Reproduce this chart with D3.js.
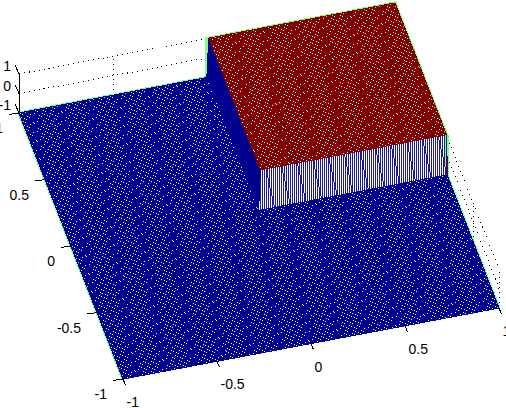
<!DOCTYPE html>
<html><head><meta charset="utf-8">
<style>html,body{margin:0;padding:0;background:#fff;overflow:hidden}svg{display:block}
text{font-family:"Liberation Sans",Arial,sans-serif;font-size:14px;fill:#000}</style>
<script src="https://cdn.jsdelivr.net/npm/d3@7/dist/d3.min.js"></script></head><body>
<script>
const xTicks=[-1,-0.5,0,0.5,1];
const yTicks=[-1,-0.5,0,0.5,1];
const zTicks=[-1,0,1];
const xBlocks=[-1,0,1];
const yBlocks=[-1,0,1];
const blockHeights=[[-1,-1],[-1,1]]; // rows: x block, cols: y block
const meshCellsPerUnit=100;
const colours={low:"#00008f",high:"#800000",edge:"#80ff80"};

const W=506,H=408;
const svg=d3.select("body").append("svg").attr("width",W).attr("height",H);
const xToPx=d3.scaleLinear([-1,1],[-188,188]), xToPy=d3.scaleLinear([-1,1],[35.5,-35.5]);
const yToPx=d3.scaleLinear([-1,1],[52,-52]),   yToPy=d3.scaleLinear([-1,1],[133,-133]);
const zToPy=d3.scaleLinear([-1,1],[19.5,-19.5]);
const P=(x,y,z)=>[259+xToPx(x)+yToPx(y),191+xToPy(x)+yToPy(y)+zToPy(z)];
const line=pts=>"M"+pts.map(p=>p[0].toFixed(2)+","+p[1].toFixed(2)).join("L");
const blockIdx=(b,v)=>Math.max(0,d3.bisectLeft(b,v)-1);
const height=(x,y)=>blockHeights[Math.min(1,blockIdx(xBlocks,x))][Math.min(1,blockIdx(yBlocks,y))];
const n=2*meshCellsPerUnit, mesh=d3.range(n+1).map(i=>-1+i/meshCellsPerUnit);
const stroke=(d,c,w)=>svg.append("path").attr("d",d).attr("fill","none").attr("stroke",c).attr("stroke-width",w||1).attr("shape-rendering","crispEdges");

// dotted box grid on the two back walls
const grid=[];
zTicks.forEach(z=>{grid.push(line([P(-1,1,z),P(1,1,z)]));grid.push(line([P(1,1,z),P(1,-1,z)]));});
xTicks.forEach(x=>grid.push(line([P(x,1,-1),P(x,1,1)])));
yTicks.forEach(y=>grid.push(line([P(1,y,-1),P(1,y,1)])));
stroke(grid.join(""),"#000").attr("stroke-dasharray","1 4");

// white faces that hide the grid behind the raised block
svg.append("path").attr("d",line([P(0,0,-1),P(1,0,-1),P(1,0,1),P(1,1,1),P(0,1,1),P(0,1,-1)])+"Z").attr("fill","#fff");

// outer edge of the surface
stroke(line([P(-1,-1,-1),P(-1,1,-1),P(0,1,-1),P(0,1,1),P(1,1,1),P(1,0,1),P(1,0,-1),P(1,-1,-1)]),colours.edge,3.2);

// axes
let axisD=line([P(-1,-1,-1),P(1,-1,-1)])+line([P(-1,1,-1),P(-1,1,1)]);
xTicks.forEach(x=>{const a=P(x,-1,-1);axisD+=line([a,[a[0]+2.4,a[1]+6]]);});
yTicks.forEach(y=>{const a=P(-1,y,-1);axisD+=line([a,[a[0]-10,a[1]+1.5]]);});
zTicks.forEach(z=>{const a=P(-1,1,z);axisD+=line([a,[a[0]-3.8,a[1]-8.5]]);});
stroke(axisD,"#000");

// mesh: walk each row and column, split where the height changes
const dLow=[],dFront=[],dSide=[],dHigh=[];
function walk(pt,wall){
  let i=0;
  while(i<n){
    const z0=height(...pt(mesh[i]));
    const z1=height(...pt(mesh[i+1]));
    if(z0!==z1){wall.push(line([P(...pt(mesh[i]),z0),P(...pt(mesh[i+1]),z1)]));i++;continue;}
    let j=i+1;
    while(j<n&&height(...pt(mesh[j+1]))===z0)j++;
    (z0<0?dLow:dHigh).push(line([P(...pt(mesh[i]),z0),P(...pt(mesh[j]),z0)]));
    i=j;
  }
}
mesh.forEach(v=>{walk(t=>[v,t],dFront);walk(t=>[t,v],dSide);});
stroke(dFront.join(""),colours.low,0.9);
stroke(dSide.join(""),colours.low,1.3);
stroke(dLow.join(""),colours.low,1.12);
stroke(dHigh.join(""),colours.high,1.12);
stroke(line([P(1,0,0),P(1,0,-1)]),colours.high);

// tick labels
const fmt=d=>String(d);
svg.append("g").selectAll("text").data(xTicks).join("text")
  .attr("x",d=>P(d,-1,-1)[0]+3.5).attr("y",d=>P(d,-1,-1)[1]+28).text(fmt);
svg.append("g").selectAll("text").data(yTicks).join("text").attr("text-anchor","end")
  .attr("x",d=>P(-1,d,-1)[0]-16).attr("y",d=>P(-1,d,-1)[1]+20).text(fmt);
svg.append("g").selectAll("text").data(zTicks).join("text").attr("text-anchor","end")
  .attr("x",11).attr("y",d=>P(-1,1,d)[1]-3).text(fmt);
</script></body></html>
